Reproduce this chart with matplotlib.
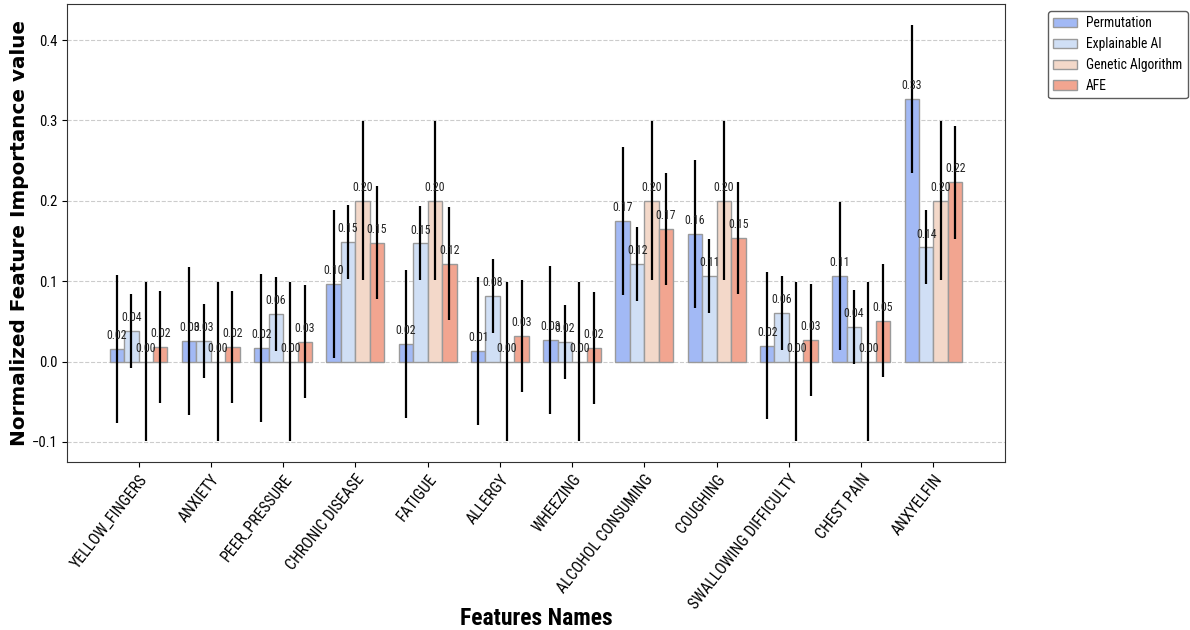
import matplotlib
matplotlib.use("Agg")
import matplotlib.pyplot as plt
import numpy as np

features = ["YELLOW_FINGERS", "ANXIETY", "PEER_PRESSURE", "CHRONIC DISEASE", "FATIGUE",
            "ALLERGY", "WHEEZING", "ALCOHOL CONSUMING", "COUGHING",
            "SWALLOWING DIFFICULTY", "CHEST PAIN", "ANXYELFIN"]
methods = ["Permutation", "Explainable AI", "Genetic Algorithm", "AFE"]

permutation = [0.016, 0.026, 0.017, 0.096, 0.022, 0.013, 0.027, 0.175, 0.159, 0.020, 0.107, 0.327]
explainable_ai = [0.038, 0.026, 0.059, 0.149, 0.147, 0.082, 0.024, 0.122, 0.107, 0.061, 0.043, 0.142]
genetic_algorithm = [0.0, 0.0, 0.0, 0.20, 0.20, 0.0, 0.0, 0.20, 0.20, 0.0, 0.0, 0.20]
afe = [0.018, 0.018, 0.025, 0.148, 0.122, 0.032, 0.017, 0.165, 0.154, 0.027, 0.051, 0.223]

permutation_err = [0.092] * 12
explainable_ai_err = [0.046] * 12
genetic_algorithm_err = [0.099] * 12
afe_err = [0.070] * 12

values = [permutation, explainable_ai, genetic_algorithm, afe]
errors = [permutation_err, explainable_ai_err, genetic_algorithm_err, afe_err]
colors = ["#a2b9f5", "#d0dff5", "#f3d8c9", "#f2a590"]

plt.rcParams["font.family"] = ["Roboto Condensed", "DejaVu Sans"]

fig = plt.figure(figsize=(11.9, 6.3), dpi=100)
ax = fig.add_axes([67 / 1190, 1 - 462 / 630, (1005 - 67) / 1190, (462 - 4) / 630])

x = np.arange(len(features))
width = 0.2
for i, (vals, errs, col, name) in enumerate(zip(values, errors, colors, methods)):
    pos = x + (i - 1.5) * width
    ax.bar(pos, vals, width, color=col, edgecolor="#9a9a9a", linewidth=1.0,
           label=name, zorder=2)
    ax.errorbar(pos, vals, yerr=errs, fmt="none", ecolor="black", elinewidth=1.6,
                capsize=0, zorder=3)
    for p, v in zip(pos, vals):
        ax.annotate(f"{v:.2f}", (p, v), xytext=(0, 5), textcoords="offset points",
                    ha="center", va="bottom", fontsize=8.5, color="#222222", zorder=4)

ax.set_xticks(x)
ax.set_xticklabels(features, rotation=52, ha="right", rotation_mode="anchor", fontsize=11.3)
ax.tick_params(axis="y", labelsize=10.5)
ax.yaxis.grid(True, linestyle="--", color="#cccccc", linewidth=0.8, zorder=0)
ax.set_axisbelow(True)
ax.set_ylabel("Normalized Feature Importance value", fontsize=14.4, fontweight="bold",
              family="DejaVu Sans", labelpad=2)
ax.set_xlabel("Features Names", fontsize=17, fontweight="bold")
ax.xaxis.set_label_coords(0.5, -0.317)
for s in ax.spines.values():
    s.set_color("#333333")

ax.legend(loc="upper left", bbox_to_anchor=(1048 / 1190, 1 - 11 / 630),
          bbox_transform=fig.transFigure, borderaxespad=0, fontsize=9.8,
          handlelength=1.7, handletextpad=0.7,
          edgecolor="#333333", fancybox=True)

fig.savefig("out.png", dpi=100)
